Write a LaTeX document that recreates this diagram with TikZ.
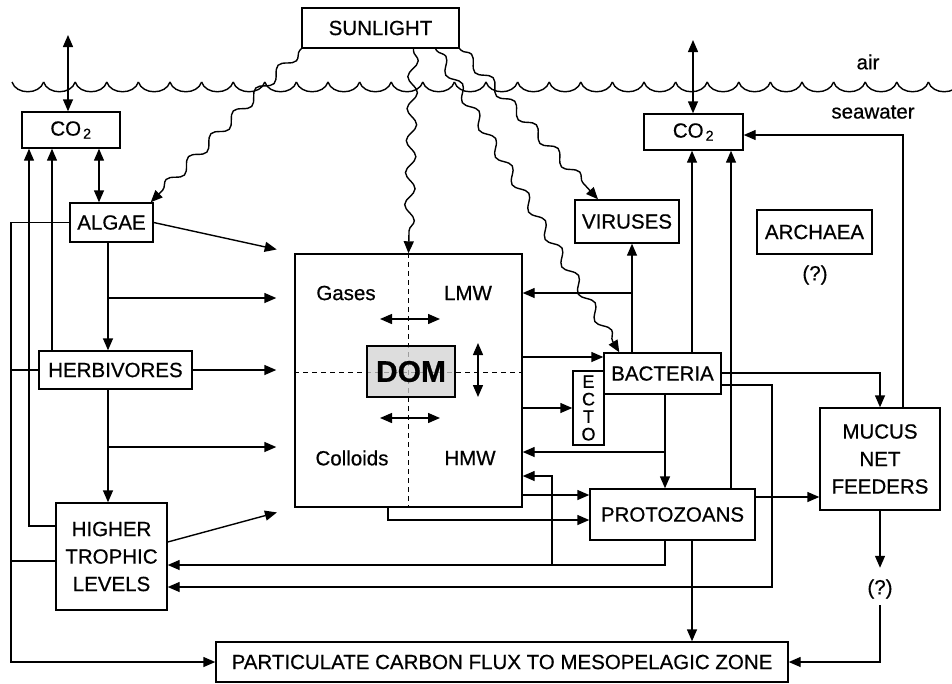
\documentclass[tikz,border=0pt]{standalone}
\usepackage{fontspec}
\setmainfont{Liberation Sans}[FakeBold=0.6]
\usetikzlibrary{arrows.meta,decorations.pathmorphing}

\begin{document}
\begin{tikzpicture}[x=1pt, y=-1pt, line width=1.4pt,
    font=\fontsize{20.5}{27.5}\selectfont,
    >={Triangle[length=12pt,width=10pt]},
    box/.style={draw, inner sep=0pt, align=center},
    txt/.style={inner sep=0pt},
    gap/.style={shorten >=18pt},
    wavy/.style={decorate, decoration={snake, amplitude=5pt, segment length=32pt, pre length=2pt, post length=10pt}}]
    \useasboundingbox (0,0) rectangle (952,683);

    % Sea surface
    \foreach \i in {0,...,29}
        \draw ({12+31.6*\i},82) .. controls ({16+31.6*\i},95) and ({39.6+31.6*\i},95) .. ({43.6+31.6*\i},82);
    \node[txt] (air) at (868,62) {air};
    \node[txt] (sea) at (873,112) {seawater};

    % Nodes
    \node[box, minimum width=157pt, minimum height=40pt] (sun) at (380.5,28) {SUNLIGHT};
    \node[box, minimum width=98pt, minimum height=36pt] (co2L) at (71,130) {CO\kern2pt\textsubscript{2}};
    \node[box, minimum width=99pt, minimum height=36pt] (co2R) at (693.5,132) {CO\kern2pt\textsubscript{2}};
    \node[box, minimum width=83pt, minimum height=39pt] (algae) at (111.5,222.5) {ALGAE};
    \node[box, minimum width=153pt, minimum height=38pt] (herb) at (115.5,370) {HERBIVORES};
    \node[box, minimum width=111pt, minimum height=107pt] (higher) at (111.5,556.5) {HIGHER\\TROPHIC\\LEVELS};
    \node[box, minimum width=227pt, minimum height=253pt] (dombox) at (408.5,380.5) {};
    \node[box, minimum width=104pt, minimum height=43pt] (viruses) at (627,221.5) {VIRUSES};
    \node[box, minimum width=115pt, minimum height=44pt] (archaea) at (814.5,232) {ARCHAEA};
    \node[txt] (q1) at (815,275) {(?)};
    \node[box, minimum width=117pt, minimum height=41pt] (bact) at (662.5,373.5) {BACTERIA};
    \node[box, minimum width=31pt, minimum height=74pt, font=\fontsize{18}{17.5}\selectfont] (ecto) at (588.5,408) {E\\C\\T\\O};
    \node[box, minimum width=165pt, minimum height=51pt] (proto) at (672.5,514.5) {PROTOZOANS};
    \node[box, minimum width=120pt, minimum height=102pt] (mucus) at (880,459) {MUCUS\\NET\\FEEDERS};
    \node[txt, inner ysep=6pt] (q2) at (880,589) {(?)};
    \node[box, minimum width=572pt, minimum height=40pt] (flux) at (502,662) {PARTICULATE CARBON FLUX TO MESOPELAGIC ZONE};

    % DOM pool
    \draw[line width=1pt, dash pattern=on 5pt off 4pt] (dombox.north) -- (dombox.south);
    \draw[line width=1pt, dash pattern=on 5pt off 4pt] (dombox.west |- 0,372) -- (dombox.east |- 0,372);
    \node[box, minimum width=88pt, minimum height=51pt, fill=gray!35, fill opacity=0.75, text opacity=1,
        font=\fontsize{30}{32}\bfseries] (dom) at (411,371.5) {DOM};
    \node[txt] (gases) at (346,293) {Gases};
    \node[txt] (lmw) at (468,293) {LMW};
    \node[txt] (colloids) at (352,458) {Colloids};
    \node[txt] (hmw) at (470,458) {HMW};
    \draw[<->] (380,319) -- (440,319);
    \draw[<->] (380,418) -- (440,418);
    \draw[<->] (478,343) -- (478,397);

    % Sunlight
    \draw[->, wavy] (sun.south west) -- ([xshift=-3pt]algae.north east);
    \draw[->, wavy] ([xshift=33pt]sun.south) -- (dombox.north);
    \draw[->, wavy] ([xshift=55pt]sun.south) -- ([xshift=16pt]bact.north west);
    \draw[->, wavy] (sun.south east) -- ([xshift=-29pt]viruses.north);

    % Gas exchange
    \coordinate (atmL) at (68,35);
    \coordinate (atmR) at (693,40);
    \draw[<->] (atmL) -- (atmL |- co2L.north);
    \draw[<->] (atmR) -- (atmR |- co2R.north);
    \draw[<->] (co2L.south -| 99,0) -- (algae.north -| 99,0);

    % Grazing chain
    \coordinate (ja) at (108,298);
    \coordinate (jh) at (108,447);
    \draw[->] (algae.south -| 108,0) -- (herb.north -| 108,0);
    \draw[->] (herb.south -| 108,0) -- (higher.north -| 108,0);
    \draw[->, gap] (ja) -- (ja -| dombox.west);
    \draw[->, gap] (jh) -- (jh -| dombox.west);
    \draw[->, gap] (algae.east) -- (dombox.north west);
    \draw[->, gap] (herb.east) -- (herb.east -| dombox.west);
    \draw[->, gap] (higher.east |- 0,542) -- (dombox.south west);
    \draw[->] (herb.north -| 52,0) -- (co2L.south -| 52,0);
    \draw[->] (higher.west |- 0,526) -| (co2L.south -| 29,0);
    \draw[->] (algae.west) -- (algae.west -| 11,0) |- (flux.west);
    \draw (herb.west) -- (herb.west -| 11,0);
    \draw (higher.west |- 0,561) -- (11,561);

    % Microbial loop
    \coordinate (jv) at (632,293);
    \coordinate (jb) at (665,452);
    \coordinate (jp) at (552,565);
    \coordinate (cb) at (772,587);
    \draw[->] (bact.north -| 632,0) -- (viruses.south -| 632,0);
    \draw[->] (jv) -- (jv -| dombox.east);
    \draw[->] (dombox.east |- 0,357) -- (bact.west |- 0,357);
    \draw[->] (dombox.east |- ecto.west) -- (ecto.west);
    \draw[->] (bact.south -| 665,0) -- (proto.north -| 665,0);
    \draw[->] (jb) -- (jb -| dombox.east);
    \draw[->] (dombox.east |- 0,495) -- (proto.west |- 0,495);
    \draw[->] (dombox.south -| 388,0) |- (proto.west |- 0,520);
    \draw[->] (proto.south -| 665,0) |- (higher.east |- 0,565);
    \draw[->] (jp) |- (dombox.east |- 0,476);
    \draw[->] (bact.east |- 0,385) -| (cb) -- (cb -| higher.east);
    \draw[->] (bact.east |- 0,373) -| (mucus.north);
    \draw[->] (bact.north -| 692,0) -- (co2R.south -| 692,0);
    \draw[->] (proto.north -| 731,0) -- (co2R.south -| 731,0);
    \draw[->] (proto.east |- 0,497) -- (mucus.west |- 0,497);
    \draw[->] (mucus.north -| 903,0) |- (co2R.east |- 0,135);
    \draw[->, shorten >=5pt] (mucus.south) -- (q2.north);
    \draw[->] (q2.south) |- (flux.east);
    \draw[->] (proto.south -| 692,0) -- (flux.north -| 692,0);
\end{tikzpicture}
\end{document}
